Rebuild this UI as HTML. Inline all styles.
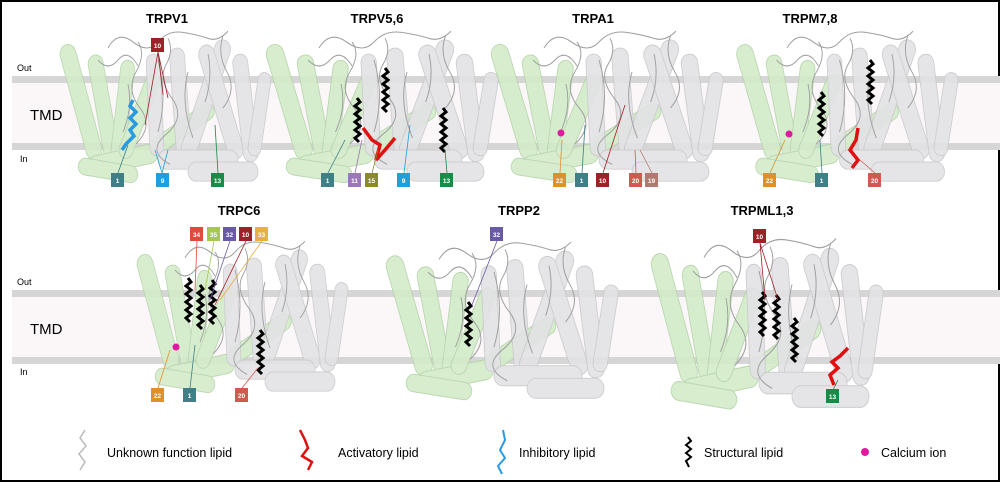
<!DOCTYPE html>
<html><head><meta charset="utf-8"><style>
html,body{margin:0;padding:0;background:#fff}
svg{display:block}
text{font-family:"Liberation Sans",sans-serif}
</style></head><body>
<svg width="1000" height="482" viewBox="0 0 1000 482" xmlns="http://www.w3.org/2000/svg">
<defs>
<g id="prot">
 <g fill="#d3ecc9" stroke="#b5d3aa" stroke-width="0.8" opacity="0.9">
  <rect x="-95" y="-55" width="16" height="100" rx="8" transform="rotate(-18 -87 -5)"/>
  <rect x="-72" y="-45" width="15" height="95" rx="7" transform="rotate(-12 -64 0)"/>
  <rect x="-52" y="-40" width="14" height="85" rx="7" transform="rotate(8 -45 0)"/>
  <rect x="-80" y="35" width="70" height="16" rx="8" transform="rotate(-10 -45 43)"/>
  <rect x="-35" y="-30" width="14" height="75" rx="7" transform="rotate(25 -28 5)"/>
  <rect x="-20" y="10" width="70" height="14" rx="7" transform="rotate(-30 15 17)"/>
  <rect x="-90" y="45" width="60" height="14" rx="7" transform="rotate(8 -60 52)"/>
 </g>
 <g fill="#e3e3e6" stroke="#c9c9cc" stroke-width="0.8" opacity="0.9">
  <rect x="-20" y="-45" width="14" height="85" rx="7" transform="rotate(-3 -13 -3)"/>
  <rect x="5" y="-50" width="15" height="95" rx="7" transform="rotate(-5 12 -3)"/>
  <rect x="30" y="-60" width="16" height="105" rx="8" transform="rotate(22 38 -8)"/>
  <rect x="45" y="-55" width="16" height="100" rx="8" transform="rotate(-20 53 -5)"/>
  <rect x="70" y="-45" width="15" height="90" rx="7" transform="rotate(-8 77 0)"/>
  <rect x="-10" y="35" width="80" height="16" rx="8"/>
  <rect x="20" y="45" width="70" height="16" rx="8"/>
  <rect x="85" y="-30" width="13" height="70" rx="6" transform="rotate(10 91 5)"/>
 </g>
 <path d="M-60,-50 q10,-15 25,-5 t25,0 t25,-8 t25,5 t20,-6 M-40,-20 q5,20 -5,40 M-10,-40 q10,30 0,60 M20,-30 q-8,25 5,55 M40,-45 q5,20 -3,40 M-30,-55 q8,10 -2,25 t4,30 t-4,30 M0,-58 q6,10 -2,22 t6,28 t-6,30 t4,25 M55,-60 q-6,15 4,30 t-4,30 M-70,-40 q10,10 20,0 t20,5" fill="none" stroke="#a0a0a0" stroke-width="0.9"/>
</g>
<polyline id="blk" points="0,0 3,4 -2,8 3,12 -2,16 3,20 -2,24 3,28 -2,32 3,36 -2,40 2,44" fill="none" stroke="#000" stroke-width="3"/>
</defs>
<rect x="1" y="1" width="998" height="480" fill="#fff" stroke="#000" stroke-width="2"/>
<rect x="12" y="82" width="988" height="62" fill="#fbf7f9"/>
<rect x="12" y="76" width="988" height="7" fill="#d6d6d6"/>
<rect x="12" y="143" width="988" height="7" fill="#d6d6d6"/>
<rect x="12" y="296" width="988" height="62" fill="#fbf7f9"/>
<rect x="12" y="290" width="988" height="7" fill="#d6d6d6"/>
<rect x="12" y="357" width="988" height="7" fill="#d6d6d6"/>
<g font-size="13" font-weight="bold" text-anchor="middle">
<text x="167" y="23">TRPV1</text><text x="377" y="23">TRPV5,6</text><text x="593" y="23">TRPA1</text><text x="810" y="23">TRPM7,8</text>
<text x="239" y="215">TRPC6</text><text x="519" y="215">TRPP2</text><text x="762" y="215">TRPML1,3</text></g>
<use href="#prot" transform="translate(168,108) scale(1.0,1.2)"/>
<use href="#prot" transform="translate(385,108) scale(1.1,1.2)"/>
<use href="#prot" transform="translate(610,108) scale(1.1,1.2)"/>
<use href="#prot" transform="translate(850,108) scale(1.05,1.2)"/>
<use href="#prot" transform="translate(245,318) scale(1.0,1.2)"/>
<use href="#prot" transform="translate(505,322) scale(1.1,1.25)"/>
<use href="#prot" transform="translate(770,325) scale(1.1,1.35)"/>
<g font-size="9" fill="#000"><text x="17" y="71">Out</text><text x="20" y="162">In</text><text x="17" y="285">Out</text><text x="20" y="375">In</text></g>
<g font-size="15"><text x="30" y="120">TMD</text><text x="30" y="334">TMD</text></g>
<polyline points="133,100 130,106 136,112 130,118 136,124 130,130 134,136 126,144 122,150" fill="none" stroke="#2a9ae0" stroke-width="3.5"/>
<use href="#blk" x="385" y="68"/><use href="#blk" x="357" y="98"/><use href="#blk" x="443" y="108"/>
<polyline points="363,128 372,140 380,145 376,160 385,150 395,138" fill="none" stroke="#e01010" stroke-width="3.5"/>
<use href="#blk" x="870" y="60"/><use href="#blk" x="821" y="92"/>
<polyline points="858,128 856,140 850,150 858,160 852,168" fill="none" stroke="#e01010" stroke-width="3.5"/>
<use href="#blk" x="188" y="278"/><use href="#blk" x="200" y="285"/><use href="#blk" x="212" y="280"/><use href="#blk" x="260" y="330"/>
<use href="#blk" x="468" y="302"/>
<use href="#blk" x="762" y="292"/><use href="#blk" x="776" y="295"/><use href="#blk" x="794" y="318"/>
<polyline points="848,348 840,356 832,362 838,368 830,375 834,385" fill="none" stroke="#e01010" stroke-width="3.5"/>
<g fill="#e01aa0"><circle cx="561" cy="133" r="3.5"/><circle cx="789" cy="134" r="3.5"/><circle cx="176" cy="347" r="3.5"/></g>
<g stroke-width="0.8" fill="none">
<path d="M158,52 L145,125 M158,52 L163,95 M158,52 L168,98" stroke="#9b2226"/>
<path d="M118,173 L128,145" stroke="#3f7f86"/><path d="M162,173 L155,150 M162,173 L168,150" stroke="#1fa0dc"/><path d="M218,173 L215,125" stroke="#1a8a48"/>
<path d="M328,173 L345,140" stroke="#3f7f86"/><path d="M355,173 L362,140" stroke="#9b78b8"/><path d="M372,173 L378,150" stroke="#8a8a2a"/><path d="M404,173 L410,125" stroke="#1fa0dc"/><path d="M447,173 L445,150" stroke="#1a8a48"/>
<path d="M560,173 L562,140" stroke="#e0902a"/><path d="M582,173 L585,125" stroke="#3f7f86"/><path d="M603,173 L625,105" stroke="#9b2226"/><path d="M636,173 L635,150" stroke="#d05a50"/><path d="M652,173 L640,150" stroke="#b07a70"/>
<path d="M770,173 L785,140" stroke="#e0902a"/><path d="M822,173 L820,140" stroke="#3f7f86"/><path d="M875,173 L860,160" stroke="#d05a50"/>
<path d="M197,241 L195,290" stroke="#e04a3a"/><path d="M214,241 L205,290" stroke="#a6c850"/><path d="M230,241 L210,300" stroke="#6a5aa6"/><path d="M246,241 L215,305" stroke="#9b2226"/><path d="M262,241 L220,300" stroke="#e8b040"/>
<path d="M158,388 L170,350" stroke="#e0902a"/><path d="M190,388 L195,345" stroke="#3f7f86"/><path d="M242,388 L258,368" stroke="#d05a50"/>
<path d="M497,241 L472,305" stroke="#6a5aa6"/><path d="M760,243 L765,300 M760,243 L778,300" stroke="#9b2226"/><path d="M833,390 L838,380" stroke="#1a8a48"/>
</g>
<g font-size="6.5" font-weight="bold" fill="#fff" text-anchor="middle">
<g><rect x="151" y="38" width="13" height="14" fill="#9b2226"/><text x="157.5" y="48">10</text></g>
<g><rect x="111" y="173" width="13" height="14" fill="#3f7f86"/><text x="117.5" y="183">1</text></g>
<g><rect x="156" y="173" width="13" height="14" fill="#1fa0dc"/><text x="162.5" y="183">9</text></g>
<g><rect x="211" y="173" width="13" height="14" fill="#1a8a48"/><text x="217.5" y="183">13</text></g>
<g><rect x="321" y="173" width="13" height="14" fill="#3f7f86"/><text x="327.5" y="183">1</text></g>
<g><rect x="348" y="173" width="13" height="14" fill="#9b78b8"/><text x="354.5" y="183">11</text></g>
<g><rect x="365" y="173" width="13" height="14" fill="#8a8a2a"/><text x="371.5" y="183">15</text></g>
<g><rect x="397" y="173" width="13" height="14" fill="#1fa0dc"/><text x="403.5" y="183">9</text></g>
<g><rect x="440" y="173" width="13" height="14" fill="#1a8a48"/><text x="446.5" y="183">13</text></g>
<g><rect x="553" y="173" width="13" height="14" fill="#e0902a"/><text x="559.5" y="183">22</text></g>
<g><rect x="575" y="173" width="13" height="14" fill="#3f7f86"/><text x="581.5" y="183">1</text></g>
<g><rect x="596" y="173" width="13" height="14" fill="#9b2226"/><text x="602.5" y="183">10</text></g>
<g><rect x="629" y="173" width="13" height="14" fill="#d05a50"/><text x="635.5" y="183">20</text></g>
<g><rect x="645" y="173" width="13" height="14" fill="#b07a70"/><text x="651.5" y="183">19</text></g>
<g><rect x="763" y="173" width="13" height="14" fill="#e0902a"/><text x="769.5" y="183">22</text></g>
<g><rect x="815" y="173" width="13" height="14" fill="#3f7f86"/><text x="821.5" y="183">1</text></g>
<g><rect x="868" y="173" width="13" height="14" fill="#d05a50"/><text x="874.5" y="183">20</text></g>
<g><rect x="190" y="227" width="13" height="14" fill="#e04a3a"/><text x="196.5" y="237">34</text></g>
<g><rect x="207" y="227" width="13" height="14" fill="#a6c850"/><text x="213.5" y="237">35</text></g>
<g><rect x="223" y="227" width="13" height="14" fill="#6a5aa6"/><text x="229.5" y="237">32</text></g>
<g><rect x="239" y="227" width="13" height="14" fill="#9b2226"/><text x="245.5" y="237">10</text></g>
<g><rect x="255" y="227" width="13" height="14" fill="#e8b040"/><text x="261.5" y="237">33</text></g>
<g><rect x="151" y="388" width="13" height="14" fill="#e0902a"/><text x="157.5" y="398">22</text></g>
<g><rect x="183" y="388" width="13" height="14" fill="#3f7f86"/><text x="189.5" y="398">1</text></g>
<g><rect x="235" y="388" width="13" height="14" fill="#d05a50"/><text x="241.5" y="398">20</text></g>
<g><rect x="490" y="227" width="13" height="14" fill="#6a5aa6"/><text x="496.5" y="237">32</text></g>
<g><rect x="753" y="229" width="13" height="14" fill="#9b2226"/><text x="759.5" y="239">10</text></g>
<g><rect x="826" y="389" width="13" height="14" fill="#1a8a48"/><text x="832.5" y="399">13</text></g>
</g>
<polyline points="85,430 80,438 86,446 79,454 85,462 80,470" fill="none" stroke="#bbb" stroke-width="1.5"/>
<polyline points="300,430 305,440 308,448 302,456 312,462 308,470" fill="none" stroke="#e01010" stroke-width="2.5"/>
<polyline points="503,430 505,440 500,450 505,458 498,466 502,474" fill="none" stroke="#2a9ae0" stroke-width="2"/>
<polyline points="688,437 691,441 686,445 691,449 686,453 691,457 686,461 689,467" fill="none" stroke="#000" stroke-width="2"/>
<circle cx="865" cy="452" r="4" fill="#e01aa0"/>
<g font-size="12.5"><text x="107" y="457">Unknown function lipid</text><text x="338" y="457">Activatory lipid</text><text x="519" y="457">Inhibitory lipid</text><text x="704" y="457">Structural lipid</text><text x="881" y="457">Calcium ion</text></g>
</svg>
</body></html>
